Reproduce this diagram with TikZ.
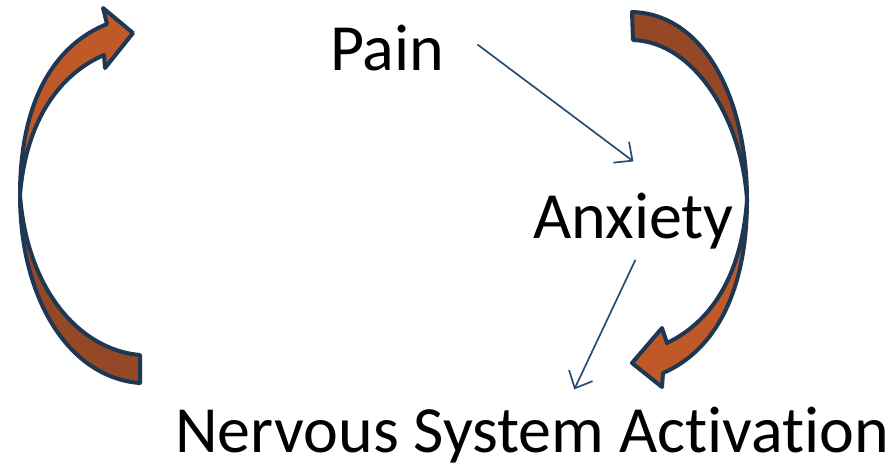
\documentclass[tikz,border=0pt]{standalone}
\usepackage{fontspec}
\setmainfont{Carlito}[Ligatures=NoCommon]
\usetikzlibrary{arrows.meta,calc}
\definecolor{rim}{HTML}{1E3752}
\definecolor{rustlight}{HTML}{BF5A28}
\definecolor{rustdark}{HTML}{944825}
\definecolor{linkblue}{HTML}{2A4C74}
\tikzset{
  txt/.style={inner sep=0pt, font=\fontsize{66}{79}\selectfont},
  band/.style={draw=rim, line width=4pt, line join=round},
  link/.style={draw=linkblue, line width=1.7pt,
    -{Straight Barb[length=14pt,width=26pt,line width=1.7pt]}}
}
\begin{document}
\begin{tikzpicture}[x=1pt,y=-1pt]
\useasboundingbox (0,0) rectangle (891,467);

% text
\node[txt, anchor=base west] (pain) at (330,70) {Pain};
\node[txt, anchor=base west] (anx) at (533,238) {Anxiety};
\node[txt, anchor=base west] (nsa) at (175,452) {Nervous System Activation};

% left curved arrow: lower (tail) band
\path[band, fill=rustdark]
  (20,195) .. controls (20,300) and (70,378) .. (140,383)
  -- (140,355) .. controls (80,350) and (27,290) .. (20,195) -- cycle;
% left curved arrow: upper band with head
\path[band, fill=rustlight]
  (20,195) .. controls (20,100) and (55,45) .. (107,24)
  -- (103,8) -- (133,33) -- (105,68) -- (104,55)
  .. controls (60,74) and (26,120) .. (20,195) -- cycle;

% right curved arrow: upper (tail) band
\path[band, fill=rustdark]
  (632,12) .. controls (705,14) and (747,100) .. (747,200)
  .. controls (742,120) and (695,42) .. (633,40) -- cycle;
% right curved arrow: lower band with head
\path[band, fill=rustlight]
  (747,200) .. controls (747,290) and (716,350) .. (663,373)
  -- (662,387) -- (632,363) -- (662,328) -- (667,343)
  .. controls (715,320) and (742,270) .. (747,200) -- cycle;

% cause links
\draw[link] ($(pain.east)+(33,-3)$) -- ($(anx.north)+(0,-31)$);
\draw[link] ($(anx.south)+(2,11)$) -- ($(nsa.north)+(42,-17)$);
\end{tikzpicture}
\end{document}
